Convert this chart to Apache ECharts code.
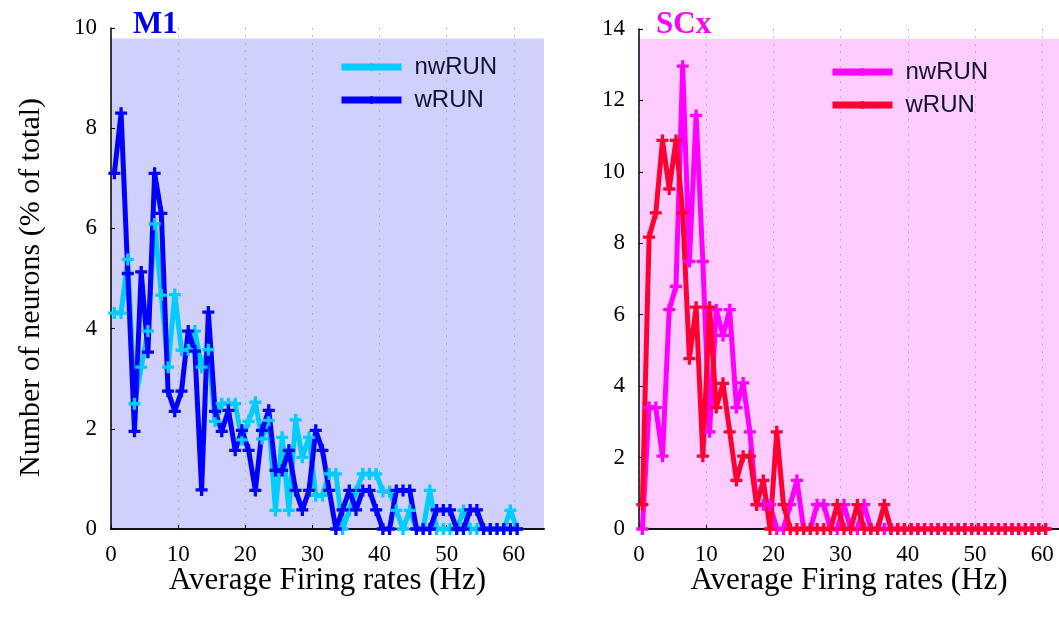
<!DOCTYPE html>
<html>
<head>
<meta charset="utf-8">
<script src="https://cdn.jsdelivr.net/npm/echarts@6/dist/echarts.min.js"></script>
<style>
  html, body { margin: 0; padding: 0; background: #fff; }
  #chart { width: 1059px; height: 623px; }
</style>
</head>
<body>
<div id="chart"></div>
<script>
// bin centres (Hz), same for both panels
var bins = [0.5, 1.5, 2.5, 3.5, 4.5, 5.5, 6.5, 7.5, 8.5, 9.5,
  10.5, 11.5, 12.5, 13.5, 14.5, 15.5, 16.5, 17.5, 18.5, 19.5,
  20.5, 21.5, 22.5, 23.5, 24.5, 25.5, 26.5, 27.5, 28.5, 29.5,
  30.5, 31.5, 32.5, 33.5, 34.5, 35.5, 36.5, 37.5, 38.5, 39.5,
  40.5, 41.5, 42.5, 43.5, 44.5, 45.5, 46.5, 47.5, 48.5, 49.5,
  50.5, 51.5, 52.5, 53.5, 54.5, 55.5, 56.5, 57.5, 58.5, 59.5, 60.5]

// M1 (% of total)
var m1NwRun = [4.31, 4.31, 5.38, 2.5, 3.23, 3.95, 6.09, 4.67, 3.23, 4.68,
  3.57, 3.58, 3.95, 3.23, 3.58, 2.15, 2.5, 2.5, 2.5, 1.78,
  2.15, 2.53, 1.8, 2.17, 0.37, 1.83, 0.37, 2.18, 1.43, 1.83,
  0.67, 0.67, 1.1, 1.1, 0, 0.37, 0.75, 1.1, 1.1, 1.1,
  0.75, 0.75, 0.37, 0, 0.37, 0, 0, 0.77, 0, 0,
  0, 0, 0.37, 0, 0, 0, 0, 0, 0, 0.37, 0]
var m1WRun = [7.1, 8.3, 5.1, 1.95, 5.13, 3.53, 7.1, 6.3, 2.75, 2.35,
  2.75, 3.95, 3.55, 0.78, 4.33, 2.35, 1.95, 2.37, 1.57, 1.97,
  1.57, 0.77, 1.97, 2.37, 1.17, 1.17, 1.57, 0.77, 0.38, 0.77,
  1.97, 1.57, 0.77, 0, 0.38, 0.77, 0.38, 0.77, 0.77, 0.38,
  0, 0, 0.77, 0.77, 0.77, 0, 0, 0, 0.38, 0.38,
  0.38, 0, 0, 0.38, 0.38, 0, 0, 0, 0, 0, 0]

// SCx (% of total)
var scxNwRun = [0, 3.4, 3.4, 2.04, 6.14, 6.79, 12.96, 7.49, 11.58, 7.49,
  2.72, 6.14, 5.42, 6.14, 3.4, 4.09, 2.72, 0.68, 0.68, 0.68,
  0, 0, 0.68, 1.36, 0, 0, 0.68, 0.68, 0, 0,
  0.68, 0, 0, 0.68, 0, 0, 0, 0, 0, 0,
  0, 0, 0, 0, 0, 0, 0, 0, 0, 0,
  0, 0, 0, 0, 0, 0, 0, 0, 0, 0, 0]
var scxWRun = [0.68, 8.17, 8.85, 10.88, 9.52, 10.88, 8.85, 4.77, 6.21, 2.04,
  6.21, 3.4, 4.08, 2.72, 1.36, 2.04, 2.04, 0.68, 1.36, 0,
  2.72, 0.68, 0, 0, 0, 0, 0, 0, 0, 0.68,
  0, 0, 0.68, 0, 0, 0, 0.68, 0, 0, 0,
  0, 0, 0, 0, 0, 0, 0, 0, 0, 0,
  0, 0, 0, 0, 0, 0, 0, 0, 0, 0, 0]

var serif = "'Liberation Serif', 'Times New Roman', serif"
var sans = "'Liberation Sans', Arial, sans-serif"
var plus = 'path://M4,0H7V4H11V7H7V11H4V7H0V4H4Z'

function pairs(ys) {
  return bins.map(function (x, i) { return [x, ys[i]] })
}

function xAxisOf(idx, max) {
  return {
    type: 'value', gridIndex: idx, min: 0, max: max, interval: 10,
    name: 'Average Firing rates (Hz)', nameLocation: 'middle', nameGap: 36,
    nameMoveOverlap: false,
    nameTextStyle: { fontFamily: serif, fontSize: 31, color: '#000' },
    axisLine: { lineStyle: { color: '#111', width: 2 } },
    axisTick: { inside: true, length: 4, lineStyle: { color: '#000' } },
    axisLabel: { fontFamily: serif, fontSize: 23, color: '#000', margin: 14, showMaxLabel: false },
    splitLine: { show: true, showMaxLine: false, lineStyle: { color: '#aaa', width: 1, type: [1.5, 6] } }
  }
}

function yAxisOf(idx, max, withName) {
  var a = {
    type: 'value', gridIndex: idx, min: 0, max: max, interval: 2,
    axisLine: { show: true, lineStyle: { color: '#000', width: 1.5 } },
    axisTick: { show: true, inside: true, length: 4, lineStyle: { color: '#000' } },
    axisLabel: { fontFamily: serif, fontSize: 23, color: '#000', margin: 14 },
    splitLine: { show: false }
  }
  if (withName) {
    a.name = 'Number of neurons (% of total)'
    a.nameLocation = 'middle'
    a.nameGap = 65
    a.nameTextStyle = { fontFamily: serif, fontSize: 30, color: '#000', padding: [0, 18, 0, 0] }
  }
  return a
}

function lineOf(name, ys, idx, color) {
  return {
    name: name, type: 'line', xAxisIndex: idx, yAxisIndex: idx,
    data: pairs(ys), symbol: plus, symbolSize: 12, showAllSymbol: true,
    clip: false, color: color,
    lineStyle: { color: color, width: 5 },
    itemStyle: { color: color }
  }
}

function shade(idx, x1, y1, color) {
  return {
    type: 'line', xAxisIndex: idx, yAxisIndex: idx, data: [], silent: true,
    markArea: {
      silent: true, z: -1,
      itemStyle: { color: color, opacity: 1 },
      data: [[{ coord: [0, 0] }, { coord: [x1, y1] }]]
    }
  }
}

function legendOf(names, left, top, gap) {
  return {
    data: names, orient: 'vertical', left: left, top: top, padding: 0,
    itemWidth: 60, itemHeight: 10, itemGap: gap,
    lineStyle: { width: 7 },
    formatter: function (n) { return n.split(' ')[1] },
    textStyle: { fontFamily: sans, fontSize: 24, lineHeight: 24, color: '#111133', padding: [0, 0, 0, 8] }
  }
}

var chart = echarts.init(document.getElementById('chart'))
chart.setOption({
  animation: false,
  backgroundColor: '#fff',
  title: [
    { text: 'M1', left: 133, top: 9, padding: 0,
      textStyle: { fontFamily: serif, fontSize: 31, fontWeight: 'bold', color: '#0000ee' } },
    { text: 'SCx', left: 656, top: 9, padding: 0,
      textStyle: { fontFamily: serif, fontSize: 31, fontWeight: 'bold', color: '#ff00ff' } }
  ],
  legend: [
    legendOf(['M1 nwRUN', 'M1 wRUN'], 338, 55, 9),
    legendOf(['SCx nwRUN', 'SCx wRUN'], 829, 60, 9)
  ],
  grid: [
    { left: 111, top: 28, width: 433, bottom: 94 },
    { left: 639, top: 29, width: 420, bottom: 94 }
  ],
  xAxis: [xAxisOf(0, 64.5), xAxisOf(1, 62.5)],
  yAxis: [yAxisOf(0, 10, true), yAxisOf(1, 14, false)],
  series: [
    shade(0, 64.5, 9.79, '#d0d0fc'),
    shade(1, 62.5, 13.72, '#ffccff'),
    lineOf('M1 nwRUN', m1NwRun, 0, '#00ccff'),
    lineOf('M1 wRUN', m1WRun, 0, '#0000ff'),
    lineOf('SCx nwRUN', scxNwRun, 1, '#ff00ff'),
    lineOf('SCx wRUN', scxWRun, 1, '#ff0033')
  ]
})
</script>
</body>
</html>
